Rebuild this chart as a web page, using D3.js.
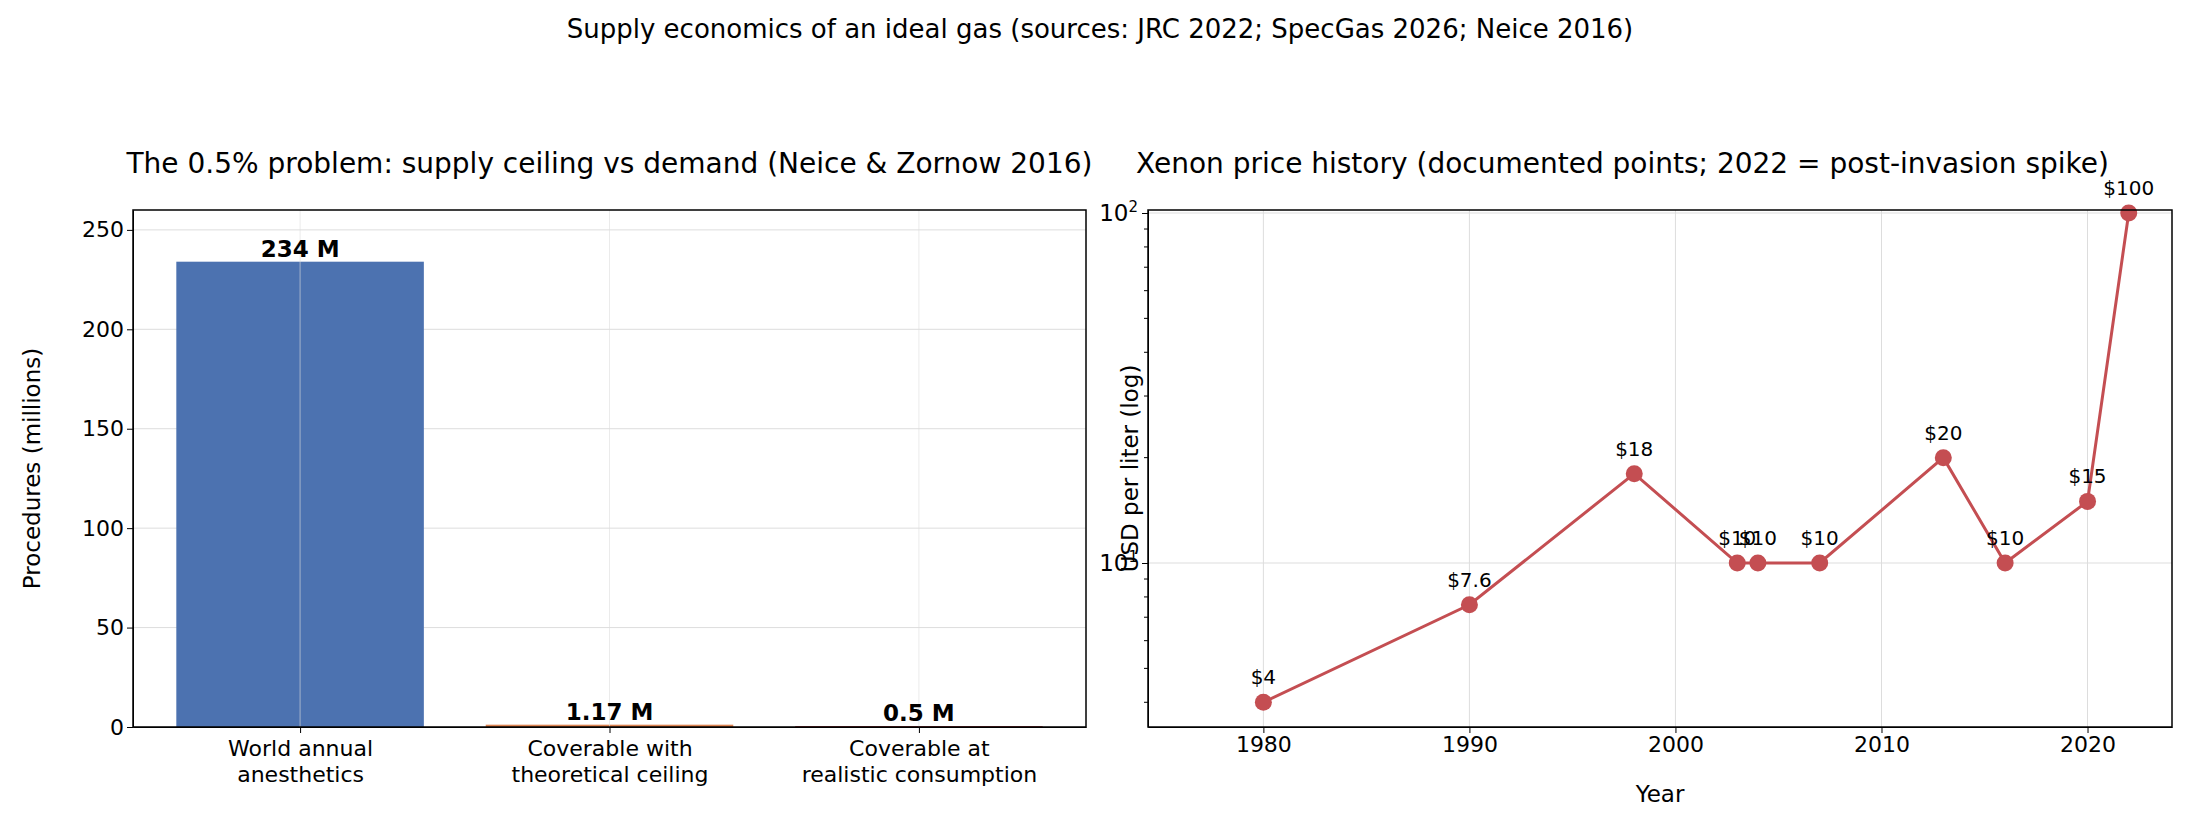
<!DOCTYPE html>
<html><head><meta charset="utf-8">
<script src="https://cdn.jsdelivr.net/npm/d3@7"></script>
<style>
body{margin:0;background:#fff;font-family:"DejaVu Sans",sans-serif;}
.tick text{font-size:22px;font-family:"DejaVu Sans";}
.grid line{stroke:#ddd;stroke-width:1;}
</style></head><body>
<svg width="2200" height="840"></svg>
<script>
var categories = ["World annual\nanesthetics", "Coverable with\ntheoretical ceiling", "Coverable at\nrealistic consumption"];
var procedures = [234, 1.17, 0.5];
var barLabels = ["234 M", "1.17 M", "0.5 M"];
var barColors = ["#4c72b0", "#dd8452", "#c44e52"];
var years = [1980, 1990, 1998, 2003, 2004, 2007, 2013, 2016, 2020, 2022];
var prices = [4, 7.6, 18, 10, 10, 10, 20, 10, 15, 100];

var svg = d3.select("svg");
svg.append("text").attr("x", 1100).attr("y", 38).attr("text-anchor", "middle")
  .style("font-size", "26px").text("Supply economics of an ideal gas (sources: JRC 2022; SpecGas 2026; Neice 2016)");

// left panel
var L = { left: 133, right: 1086, top: 210, bottom: 727 };
var x = d3.scaleLinear().domain([-0.54, 2.54]).range([L.left, L.right]);
var bw = x(0.4) - x(-0.4);
var y = d3.scaleLinear().domain([0, 260]).range([L.bottom, L.top]);
var g = svg.append("g");
g.append("g").attr("class", "grid").selectAll("line").data(y.ticks(6)).enter().append("line")
  .attr("x1", L.left).attr("x2", L.right).attr("y1", d => y(d)).attr("y2", d => y(d));
g.selectAll("rect.bar").data(procedures).enter().append("rect")
  .attr("x", (d, i) => x(i) - bw / 2).attr("width", bw)
  .attr("y", d => y(d)).attr("height", d => L.bottom - y(d))
  .style("fill", (d, i) => barColors[i]);
g.append("g").attr("class", "grid").selectAll("line").data(categories).enter().append("line")
  .attr("x1", (d, i) => x(i)).attr("x2", (d, i) => x(i))
  .attr("y1", L.top).attr("y2", L.bottom).style("stroke-opacity", 0.6);
g.selectAll("text.lbl").data(procedures).enter().append("text")
  .attr("x", (d, i) => x(i)).attr("y", d => y(d) - 5)
  .attr("text-anchor", "middle").style("font-size", "23px").style("font-weight", "bold")
  .text((d, i) => barLabels[i]);
g.append("g").attr("transform", "translate(" + L.left + ",0)").call(d3.axisLeft(y).ticks(6).tickSizeOuter(0));
var xa = g.append("g").attr("transform", "translate(0," + L.bottom + ")")
  .call(d3.axisBottom(x).tickValues([0, 1, 2]).tickFormat(i => categories[i]).tickSizeOuter(0));
xa.selectAll(".tick text").each(function(d) {
  var t = d3.select(this).text(null);
  categories[d].split("\n").forEach((s, i) => t.append("tspan").attr("x", 0).attr("dy", i ? "1.2em" : "0.9em").text(s));
});
g.append("rect").attr("x", L.left).attr("y", L.top).attr("width", L.right - L.left).attr("height", L.bottom - L.top)
  .style("fill", "none").style("stroke", "#000").style("stroke-width", 1.5);
g.append("text").attr("transform", "translate(40," + (L.top + L.bottom) / 2 + ")rotate(-90)")
  .attr("text-anchor", "middle").style("font-size", "23px").text("Procedures (millions)");
g.append("text").attr("x", (L.left + L.right) / 2).attr("y", 173).attr("text-anchor", "middle")
  .style("font-size", "28px").text("The 0.5% problem: supply ceiling vs demand (Neice & Zornow 2016)");

// right panel
var R = { left: 1148, right: 2172, top: 210, bottom: 727 };
var x2 = d3.scaleLinear().domain([1974.4, 2024.1]).range([R.left, R.right]);
var y2 = d3.scaleLog().domain([3.4, 102]).range([R.bottom, R.top]);
var h = svg.append("g");
h.append("g").attr("class", "grid").selectAll("line").data([1980, 1990, 2000, 2010, 2020]).enter().append("line")
  .attr("x1", d => x2(d)).attr("x2", d => x2(d)).attr("y1", R.top).attr("y2", R.bottom);
h.append("g").attr("class", "grid").selectAll("line").data([10, 100]).enter().append("line")
  .attr("x1", R.left).attr("x2", R.right).attr("y1", d => y2(d)).attr("y2", d => y2(d));
var pts = years.map((d, i) => [d, prices[i]]);
h.append("path").datum(pts).attr("d", d3.line().x(d => x2(d[0])).y(d => y2(d[1])))
  .style("fill", "none").style("stroke", "#c44e52").style("stroke-width", 3);
h.selectAll("circle").data(pts).enter().append("circle")
  .attr("cx", d => x2(d[0])).attr("cy", d => y2(d[1])).attr("r", 8.5).style("fill", "#c44e52");
h.selectAll("text.pl").data(pts).enter().append("text")
  .attr("x", d => x2(d[0])).attr("y", d => y2(d[1]) - 18).attr("text-anchor", "middle")
  .style("font-size", "20px").text(d => "$" + d[1]);
h.append("g").attr("transform", "translate(0," + R.bottom + ")")
  .call(d3.axisBottom(x2).tickValues([1980, 1990, 2000, 2010, 2020]).tickFormat(d3.format("d")).tickSizeOuter(0));
var minor = [4, 5, 6, 7, 8, 9, 20, 30, 40, 50, 60, 70, 80, 90];
var ya = h.append("g").attr("transform", "translate(" + R.left + ",0)")
  .call(d3.axisLeft(y2).tickValues([10, 100]).tickFormat(() => "").tickSizeOuter(0));
ya.selectAll(".tick").append("text").attr("x", -10).attr("dy", "0.32em").attr("text-anchor", "end")
  .style("fill", "#000").style("font-size", "23px")
  .each(function(d) { var t = d3.select(this); t.append("tspan").text("10");
    t.append("tspan").attr("dy", "-0.6em").style("font-size", "15px").text(d === 10 ? "1" : "2"); });
h.append("g").selectAll("line").data(minor).enter().append("line")
  .attr("x1", R.left - 4).attr("x2", R.left).attr("y1", d => y2(d)).attr("y2", d => y2(d)).style("stroke", "#000");
h.append("rect").attr("x", R.left).attr("y", R.top).attr("width", R.right - R.left).attr("height", R.bottom - R.top)
  .style("fill", "none").style("stroke", "#000").style("stroke-width", 1.5);
h.append("text").attr("transform", "translate(1138," + (R.top + R.bottom) / 2 + ")rotate(-90)")
  .attr("text-anchor", "middle").style("font-size", "23px").text("USD per liter (log)");
h.append("text").attr("x", (R.left + R.right) / 2).attr("y", 802).attr("text-anchor", "middle")
  .style("font-size", "23px").text("Year");
h.append("text").attr("x", 1136).attr("y", 173)
  .style("font-size", "28px").text("Xenon price history (documented points; 2022 = post-invasion spike)");
</script></body></html>
